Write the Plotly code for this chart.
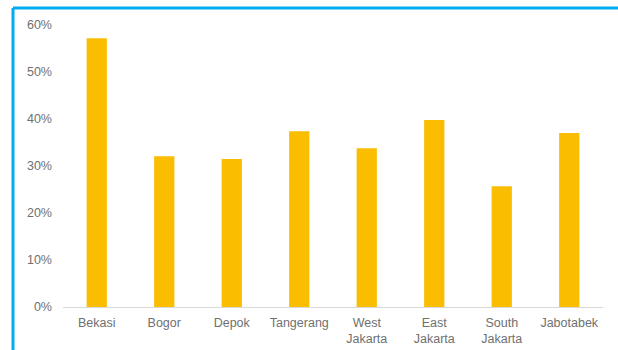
import plotly.graph_objects as go

# Share of respondents by area
areas = ["Bekasi", "Bogor", "Depok", "Tangerang", "West<br>Jakarta",
         "East<br>Jakarta", "South<br>Jakarta", "Jabotabek"]
shares = [0.572, 0.321, 0.315, 0.374, 0.338, 0.398, 0.257, 0.370]
y_ticks = [0, 0.1, 0.2, 0.3, 0.4, 0.5, 0.6]
y_tick_text = ["0%", "10%", "20%", "30%", "40%", "50%", "60%"]

W, H = 618, 350
L, R, T, B = 63, 15, 25, 43
plot_w = W - L - R
plot_h = H - T - B

fig = go.Figure(go.Bar(x=areas, y=shares, marker_color="#FABD00",
                       marker_line_width=0))

border = "#00AEEF"
bx = (13 - L) / plot_w
by = 1 + (T - 8) / plot_h
fig.add_shape(type="line", xref="paper", yref="paper",
              x0=bx, x1=bx, y0=by, y1=-(H - T - plot_h) / plot_h - 0.1,
              line=dict(color=border, width=3))
fig.add_shape(type="line", xref="paper", yref="paper",
              x0=bx, x1=1 + (R + 5) / plot_w, y0=by, y1=by,
              line=dict(color=border, width=3))

label_font = dict(family="Liberation Sans, Arial, sans-serif", size=12.5,
                  color="#707070")

fig.update_layout(
    width=W, height=H,
    margin=dict(l=L, r=R, t=T, b=B),
    paper_bgcolor="white", plot_bgcolor="white",
    bargap=0.7, showlegend=False,
    font=label_font,
)
fig.update_xaxes(showgrid=False, showline=True, linecolor="#D9D9D9",
                 linewidth=1, ticks="", tickangle=0, ticklabelstandoff=4,
                 automargin=False, tickfont=label_font)
fig.update_yaxes(range=[0, 0.6], tickvals=y_ticks, ticktext=y_tick_text,
                 showgrid=False, zeroline=False, showline=False, ticks="",
                 ticklabelstandoff=10, automargin=False, tickfont=label_font)

fig.write_html("out.html")
